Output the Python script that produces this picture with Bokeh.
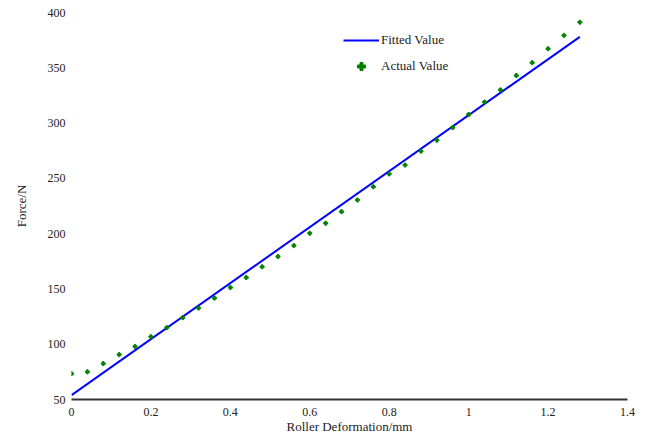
from bokeh.plotting import figure
from bokeh.models import Legend, LegendItem, FixedTicker, Range1d
from bokeh.embed import file_html
from bokeh.resources import INLINE

# Actual measured values
actual_x = [0.0, 0.04, 0.08, 0.12, 0.16, 0.20, 0.24, 0.28, 0.32, 0.36, 0.40,
            0.44, 0.48, 0.52, 0.56, 0.60, 0.64, 0.68, 0.72, 0.76, 0.80, 0.84,
            0.88, 0.92, 0.96, 1.00, 1.04, 1.08, 1.12, 1.16, 1.20, 1.24, 1.28]
actual_y = [73.4, 75.0, 82.5, 90.6, 98.0, 106.8, 115.0, 124.0, 132.7, 141.7, 151.3,
            160.3, 170.0, 179.3, 189.2, 200.3, 209.4, 219.9, 230.4, 242.4, 254.0, 262.0,
            274.6, 284.5, 296.0, 307.7, 319.0, 330.0, 343.0, 354.6, 367.2, 379.3, 391.2]

# Fitted line endpoints
fit_x = [0.0, 1.28]
fit_y = [54.0, 378.0]

x_ticks = [0, 0.2, 0.4, 0.6, 0.8, 1, 1.2, 1.4]
y_ticks = [50, 100, 150, 200, 250, 300, 350, 400]

FONT = "Liberation Serif"

p = figure(width=639, height=436, output_backend="svg", toolbar_location=None,
           x_range=Range1d(0, 1.4), y_range=Range1d(50, 400),
           min_border_left=71, min_border_right=12, min_border_top=12, min_border_bottom=30)
p.outline_line_color = None
p.grid.visible = False
p.background_fill_color = "white"

r_fit = p.line(fit_x, fit_y, line_color="#0000ff", line_width=2)
r_act = p.scatter(actual_x, actual_y, marker="plus", size=4, line_color="#008000",
                  fill_color="#008000", line_width=1)

p.xaxis.ticker = FixedTicker(ticks=x_ticks)
p.yaxis.ticker = FixedTicker(ticks=y_ticks)
p.xaxis.major_label_overrides = {0: "0", 1: "1"}
p.xaxis.axis_label = "Roller Deformation/mm"
p.yaxis.axis_label = "Force/N"
for ax in (p.xaxis[0], p.yaxis[0]):
    ax.axis_label_text_font = FONT
    ax.axis_label_text_font_style = "normal"
    ax.axis_label_text_font_size = "13px"
    ax.major_label_text_font = FONT
    ax.major_label_text_font_size = "12px"
    ax.major_label_text_color = "#222222"
    ax.axis_label_text_color = "#222222"
    ax.major_tick_line_color = None
    ax.minor_tick_line_color = None
p.xaxis.axis_line_color = "#333333"
p.xaxis.axis_line_width = 2
p.xaxis.major_label_standoff = 2
p.xaxis.axis_label_standoff = 0
p.yaxis.axis_line_color = None
p.yaxis.major_label_standoff = 0
p.yaxis.axis_label_standoff = 16

legend = Legend(items=[LegendItem(label="Fitted Value", renderers=[r_fit]),
                       LegendItem(label="Actual Value", renderers=[r_act])],
                location=(272, 323), padding=0, margin=0, spacing=6,
                glyph_width=36, glyph_height=20, label_standoff=2,
                label_text_font=FONT, label_text_font_size="13px",
                label_text_color="#222222",
                border_line_color=None, background_fill_alpha=0)
p.add_layout(legend, "center")

open("out.html", "w").write(file_html(p, INLINE))
